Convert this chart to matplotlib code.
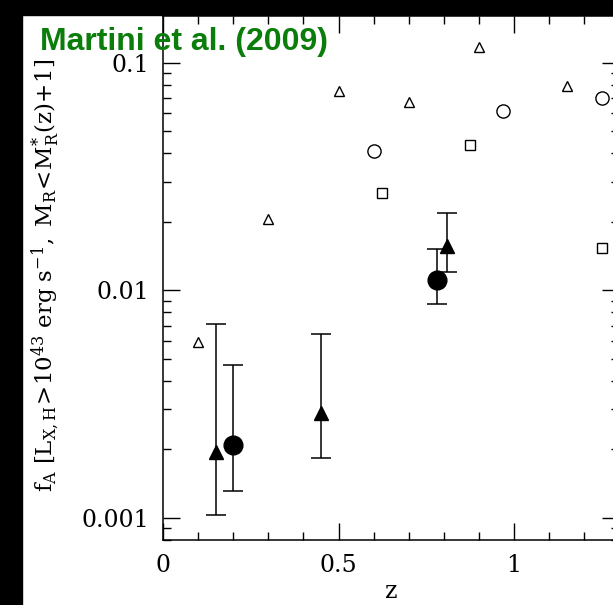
import numpy as np
import matplotlib
matplotlib.use("Agg")
import matplotlib.pyplot as plt
from matplotlib.ticker import MultipleLocator, LogLocator, FuncFormatter, NullFormatter
from matplotlib.patches import Rectangle

# open symbols (no error bars)
open_tri_z = [0.10, 0.30, 0.50, 0.70, 0.90, 1.15]
open_tri_f = [0.0059, 0.0205, 0.075, 0.067, 0.117, 0.079]
open_circ_z = [0.60, 0.97, 1.25]
open_circ_f = [0.041, 0.0615, 0.0695]
open_sq_z = [0.625, 0.875, 1.25]
open_sq_f = [0.0266, 0.0433, 0.0153]

# filled symbols with error bars
filled_tri_z = [0.15, 0.45, 0.81]
filled_tri_f = [0.00195, 0.0029, 0.0157]
filled_tri_hi = [0.0071, 0.0064, 0.0218]
filled_tri_lo = [0.00103, 0.00183, 0.0120]
filled_circ_z = [0.20, 0.78]
filled_circ_f = [0.0021, 0.0111]
filled_circ_hi = [0.0047, 0.0151]
filled_circ_lo = [0.00131, 0.0087]

plt.rcParams['font.family'] = 'DejaVu Serif'
plt.rcParams['mathtext.fontset'] = 'dejavuserif'

fig = plt.figure(figsize=(6.13, 6.05), dpi=100)
fig.patch.set_facecolor('white')
ax = fig.add_axes([0.2659, 0.1074, 0.7444, 0.8661])

def errs(f, lo, hi):
    f = np.array(f)
    return [f - np.array(lo), np.array(hi) - f]

ax.errorbar(filled_tri_z, filled_tri_f, yerr=errs(filled_tri_f, filled_tri_lo, filled_tri_hi),
            fmt='^', color='k', ms=10.5, elinewidth=1.1, capsize=7, capthick=1.1)
ax.errorbar(filled_circ_z, filled_circ_f, yerr=errs(filled_circ_f, filled_circ_lo, filled_circ_hi),
            fmt='o', color='k', ms=13.5, elinewidth=1.1, capsize=7, capthick=1.1)
ax.plot(open_tri_z, open_tri_f, '^', ms=6.5, mfc='none', mec='k', mew=1.0, ls='none')
ax.plot(open_circ_z, open_circ_f, 'o', ms=9.5, mfc='none', mec='k', mew=1.0, ls='none')
ax.plot(open_sq_z, open_sq_f, 's', ms=6.5, mfc='none', mec='k', mew=1.0, ls='none')

ax.set_yscale('log')
ax.set_xlim(0, 1.3)
ax.set_ylim(8e-4, 0.16)

fmt = FuncFormatter(lambda v, p: '%g' % v)
ax.xaxis.set_major_locator(MultipleLocator(0.5))
ax.xaxis.set_minor_locator(MultipleLocator(0.1))
ax.xaxis.set_major_formatter(fmt)
ax.yaxis.set_major_locator(LogLocator(base=10))
ax.yaxis.set_minor_locator(LogLocator(base=10, subs=np.arange(2, 10)))
ax.yaxis.set_major_formatter(fmt)
ax.yaxis.set_minor_formatter(NullFormatter())

ax.tick_params(which='both', direction='in', top=True, right=True, width=1.0, labelsize=17)
ax.tick_params(which='major', length=12.5, pad=10)
ax.tick_params(which='minor', length=6)
for s in ax.spines.values():
    s.set_linewidth(1.1)

ax.set_xlabel('z', fontsize=17, labelpad=2)

fig.text(46 / 613, 1 - 275 / 605,
         r'$\mathrm{f_A\ [L_{X,H}\!>\!10^{43}\ erg\ s^{-1},\ M_R\!<\!M^{*}_R(z)\!+\!1]}$',
         rotation=90, ha='center', va='center', fontsize=16.5)

fig.text(40 / 613, 1 - 50 / 605, 'Martini et al. (2009)', family='Liberation Sans',
         weight='bold', color='#0a7d0a', fontsize=23, va='baseline', ha='left', zorder=10)

# black frame edges of the screenshot
fig.add_artist(Rectangle((0, 0), 22 / 613, 1, transform=fig.transFigure, color='black', zorder=0))
fig.add_artist(Rectangle((0, 1 - 15 / 605), 1, 15 / 605, transform=fig.transFigure, color='black', zorder=0))

fig.savefig('out.png', dpi=100)
